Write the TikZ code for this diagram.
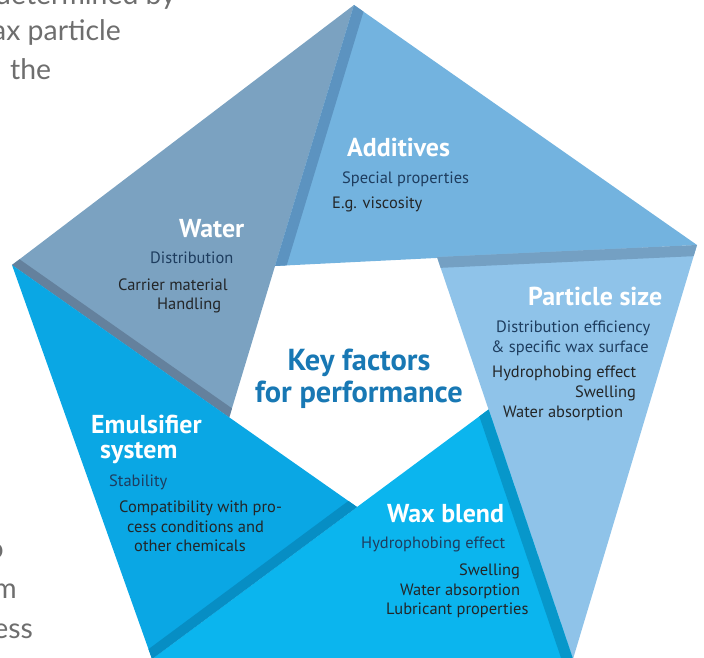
\documentclass[tikz,border=0pt]{standalone}
\usepackage{fontspec}
\setmainfont{PT Sans}
\newfontfamily\pagefont{Lato}
\usetikzlibrary{calc}
\definecolor{waterC}{HTML}{7BA2C1}
\definecolor{waterS}{HTML}{64819D}
\definecolor{addC}{HTML}{73B3DF}
\definecolor{addS}{HTML}{5C93C0}
\definecolor{partC}{HTML}{8FC3E9}
\definecolor{partS}{HTML}{74A0C3}
\definecolor{waxC}{HTML}{0BB5EE}
\definecolor{waxS}{HTML}{0797CA}
\definecolor{emuC}{HTML}{0AA7E4}
\definecolor{emuS}{HTML}{078EC4}
\definecolor{navyT}{HTML}{1E3D5F}
\definecolor{darkT}{HTML}{232628}
\definecolor{titleT}{HTML}{1878B4}
\definecolor{pageT}{HTML}{6E6E6E}
\begin{document}
\begin{tikzpicture}[x=1bp,y=-1bp,
  segtitle/.style={anchor=base west,inner sep=0pt,text=white,font=\fontsize{26}{30}\selectfont\bfseries},
  bodytext/.style={anchor=base west,inner sep=0pt,text=navyT,font=\fontsize{16.5}{20}\selectfont},
  bodydark/.style={bodytext,text=darkT},
  pagetext/.style={inner sep=0pt,text=pageT,font=\pagefont\fontsize{28.5}{40}\selectfont},
  keytext/.style={anchor=base,inner sep=0pt,text=titleT,font=\fontsize{30.5}{34}\selectfont\bfseries}]
\useasboundingbox (0,0) rectangle (704,658);
\clip (0,0) rectangle (704,658);
% outer pentagon
\coordinate (A1) at (354,5);
\coordinate (A2) at (697,245);
\coordinate (A3) at (573,659);
\coordinate (A4) at (152,659);
\coordinate (A5) at (12,265);
% inner points
\coordinate (Qa) at (275,266);
\coordinate (Qp) at (437,257);
\coordinate (Qe) at (357,507);
\coordinate (Qw) at (intersection of A1--Qa and A5--Qe);
\coordinate (Qx) at (intersection of A3--Qp and A4--Qe);
% Water
\fill[waterC] (A5)--(A1)--(Qw)--cycle;
\begin{scope}\clip (A5)--(A1)--(Qw)--cycle;
\draw[waterS,line width=18bp] ($(A5)!-0.5!(Qw)$)--($(Qw)!-0.5!(A5)$);\end{scope}
% Additives
\fill[addC] (A1)--(A2)--(Qa)--cycle;
\begin{scope}\clip (A1)--(A2)--(Qa)--cycle;
\draw[addS,line width=22bp] ($(A1)!-0.5!(Qa)$)--($(Qa)!-0.5!(A1)$);\end{scope}
% Particle size
\fill[partC] (A2)--(A3)--(Qp)--cycle;
\begin{scope}\clip (A2)--(A3)--(Qp)--cycle;
\draw[partS,line width=22bp] ($(A2)!-0.5!(Qp)$)--($(Qp)!-0.5!(A2)$);\end{scope}
% Wax blend
\fill[waxC] (A3)--(A4)--(Qx)--cycle;
\begin{scope}\clip (A3)--(A4)--(Qx)--cycle;
\draw[waxS,line width=22bp] ($(A3)!-0.5!(Qx)$)--($(Qx)!-0.5!(A3)$);\end{scope}
% Emulsifier
\fill[emuC] (A4)--(A5)--(Qe)--cycle;
\begin{scope}\clip (A4)--(A5)--(Qe)--cycle;
\draw[emuS,line width=20bp] ($(A4)!-0.5!(Qe)$)--($(Qe)!-0.5!(A4)$);\end{scope}
% centre
\node[keytext] (key1) at (359,370) {Key factors};
\node[keytext] (key2) at (359,402) {for performance};
% Water texts
\node[segtitle] (wt) at (179,237) {Water};
\node[bodytext] (w1) at (150,263) {Distribution};
\node[bodydark] (w2) at (118,290) {Carrier material};
\node[bodydark] (w3) at (157,309) {Handling};
% Additives texts
\node[segtitle] (at) at (347,156) {Additives};
\node[bodytext] (a1) at (342,183) {Special properties};
\node[bodydark] (a2) at (332,208) {E.g. viscosity};
% Particle size texts
\node[segtitle] (pt) at (528,305) {Particle size};
\node[bodytext] (p1) at (496,332) {Distribution efficiency};
\node[bodytext] (p2) at (491,352) {\& specific wax surface};
\node[bodydark] (p3) at (492,377) {Hydrophobing effect};
\node[bodydark] (p4) at (575,397) {Swelling};
\node[bodydark] (p5) at (503,417) {Water absorption};
% Wax blend texts
\node[segtitle] (xt) at (387,522) {Wax blend};
\node[bodytext] (x1) at (361,548) {Hydrophobing effect};
\node[bodydark] (x2) at (459,575) {Swelling};
\node[bodydark] (x3) at (400,595) {Water absorption};
\node[bodydark] (x4) at (386,614) {Lubricant properties};
% Emulsifier texts
\node[segtitle] (et1) at (91,433) {Emulsifier};
\node[segtitle] (et2) at (100,458) {system};
\node[bodytext] (e1) at (109,486) {Stability};
\node[bodydark] (e2) at (119,512) {Compatibility with pro-};
\node[bodydark] (e3) at (127,532) {cess conditions and};
\node[bodydark] (e4) at (134,551) {other chemicals};
% surrounding page text (cut off)
\node[pagetext,anchor=base east] (pg1) at (176,5) {determined by};
\node[pagetext,anchor=base east] (pg2) at (121,41) {wax particle};
\node[pagetext,anchor=base west] (pg3) at (10,80) {the};
\node[pagetext,anchor=base east] (pg4) at (4,558) {to};
\node[pagetext,anchor=base east] (pg5) at (17,598) {from};
\node[pagetext,anchor=base east] (pg6) at (33,638) {process};
\end{tikzpicture}
\end{document}
